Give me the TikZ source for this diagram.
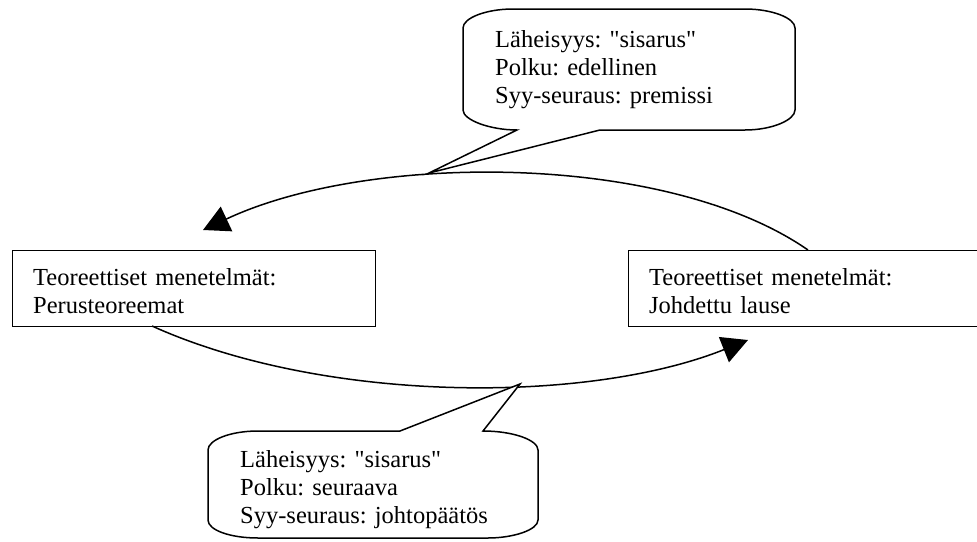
\documentclass[tikz,border=0pt]{standalone}
\usepackage{fontspec}
\newfontfamily\tnr{Liberation Serif}
\usetikzlibrary{arrows.meta}
\begin{document}
\frenchspacing
\begin{tikzpicture}[x=1pt,y=-1pt,
  box/.style={draw, line width=1.3pt, anchor=north west, inner sep=0pt, fill=white},
  txt/.style={font=\tnr\fontsize{24.5}{28}\selectfont\frenchspacing, anchor=base west, inner sep=0pt, align=left, text width=330pt},
  conn/.style={line width=1.5pt, -{Triangle[length=26pt,width=27pt]}},
  callout/.style={draw, line width=1.5pt, line join=miter, fill=white}
]
\useasboundingbox (0,0) rectangle (977,541);
\node[box, minimum width=363pt, minimum height=76pt] (L) at (12,250) {};
\node[box, minimum width=363pt, minimum height=76pt] (R) at (628,250) {};
\node[txt] (Lt) at (33,285) {Teoreettiset menetelmät:\\Perusteoreemat};
\node[txt] (Rt) at (649,285) {Teoreettiset menetelmät:\\Johdettu lause};
\coordinate (topS) at (808,250);
\coordinate (topE) at (203,230);
\coordinate (botS) at (152,326);
\coordinate (botE) at (748,340);
\draw[conn] (topS) .. controls (667,152) and (369,152) .. (topE);
\draw[conn] (botS) .. controls (325,404) and (588,404) .. (botE);
\draw[callout] (517,130) -- (429,173) -- (600,130) -- (745,130)
  .. controls (772,130) and (795,120) .. (795,110) -- (795,28)
  .. controls (795,18) and (772,9) .. (745,9) -- (513,9)
  .. controls (486,9) and (463,18) .. (463,28) -- (463,110)
  .. controls (463,120) and (490,130) .. (517,130) -- cycle;
\draw[callout] (400,431) -- (520,384) -- (483,431)
  .. controls (513,431) and (538,440) .. (538,450) -- (538,520)
  .. controls (538,530) and (513,538) .. (488,538) -- (258,538)
  .. controls (230,538) and (208,530) .. (208,520) -- (208,450)
  .. controls (208,440) and (230,431) .. (258,431) -- cycle;
\node[txt] (Tt) at (495,47) {Läheisyys: "sisarus"\\Polku: edellinen\\Syy-seuraus: premissi};
\node[txt] (Bt) at (240,467) {Läheisyys: "sisarus"\\Polku: seuraava\\Syy-seuraus: johtopäätös};
\end{tikzpicture}
\end{document}
